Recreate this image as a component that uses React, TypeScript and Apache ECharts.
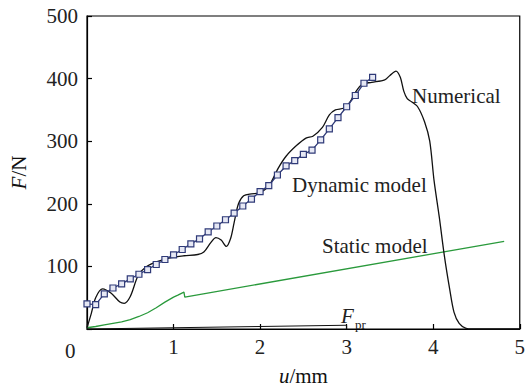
import React, { useEffect, useRef } from "react";
import * as echarts from "echarts";

const xTicks = [0, 1, 2, 3, 4, 5];
const yTicks = [0, 100, 200, 300, 400, 500];

const numericalX = [0, 0.05, 0.1, 0.18, 0.28, 0.38, 0.43, 0.5, 0.59, 0.68, 0.82, 0.97, 1.12, 1.28, 1.35, 1.43, 1.49, 1.55, 1.61, 1.66, 1.7, 1.75, 1.81, 1.9, 1.98, 2.05, 2.11, 2.21, 2.3, 2.42, 2.53, 2.61, 2.72, 2.8, 2.87, 2.97, 3.04, 3.1, 3.18, 3.29, 3.44, 3.5, 3.57, 3.62, 3.66, 3.7, 3.75, 3.82, 3.9, 3.96, 4.01, 4.07, 4.13, 4.19, 4.24, 4.3, 4.38, 4.45, 5];
const numericalY = [2, 25, 50, 64, 57, 43, 41, 52, 85, 99, 108, 114, 117, 119, 123, 138, 146, 142, 132, 145, 170, 200, 213, 216, 217, 222, 230, 257, 276, 293, 305, 308, 322, 342, 350, 353, 363, 378, 391, 394, 398, 405, 412, 402, 380, 368, 363, 355, 331, 300, 237, 179, 116, 64, 27, 9, 1, 0, 0];

const dynamicX = [0, 0.1, 0.2, 0.3, 0.4, 0.5, 0.6, 0.7, 0.8, 0.9, 1.0, 1.1, 1.2, 1.3, 1.4, 1.5, 1.6, 1.7, 1.8, 1.9, 2.0, 2.1, 2.2, 2.3, 2.4, 2.5, 2.6, 2.7, 2.8, 2.9, 3.0, 3.1, 3.2, 3.3];
const dynamicY = [40, 39, 56, 65.5, 72, 80, 87.5, 95, 103, 111, 118.5, 127, 136, 144, 155, 164.5, 174.5, 185, 196.5, 207.5, 219.6, 229, 246, 260.5, 269, 279, 285.7, 302, 319.7, 337.6, 355, 373, 392.6, 402];

const staticX = [0, 0.1, 0.2, 0.3, 0.4, 0.5, 0.6, 0.7, 0.8, 0.9, 1.0, 1.05, 1.12, 1.13, 4.82];
const staticY = [2, 4, 6.5, 9, 11.5, 15, 20, 26, 34, 43, 51, 54, 59, 51, 140];

const fprX = [0, 3, 3];
const fprY = [0, 6, 0];

const zip = (xs: number[], ys: number[]) => xs.map((x, i) => [x, ys[i]]);

const FONT = "Liberation Serif";
const FS = 21;

export default function App() {
  const ref = useRef<HTMLDivElement>(null);
  useEffect(() => {
    if (!ref.current) return;
    const chart = echarts.init(ref.current, undefined, { renderer: "svg" });
    const rich = { i: { fontFamily: FONT, fontSize: FS, fontStyle: "italic", color: "#111" } };
    chart.setOption({
      animation: false,
      backgroundColor: "#fff",
      grid: {
        left: 85,
        top: 16,
        width: 438,
        height: 318,
        show: true,
        borderColor: "#000",
        borderWidth: 1.2,
      },
      xAxis: {
        type: "value",
        min: xTicks[0],
        max: xTicks[xTicks.length - 1],
        interval: 1,
        name: "{i|u}/mm",
        nameLocation: "middle",
        nameGap: 36,
        nameTextStyle: { fontFamily: FONT, fontSize: FS, color: "#111", rich },
        axisLine: { show: true, lineStyle: { color: "#000", width: 1.2 } },
        axisTick: { show: true, inside: true, length: 5, lineStyle: { color: "#000", width: 1.2 } },
        splitLine: { show: false },
        axisLabel: {
          margin: 7,
          fontFamily: FONT,
          fontSize: FS,
          color: "#222",
          formatter: (v: number) => (v === 0 ? "" : String(v)),
        },
      },
      yAxis: {
        type: "value",
        min: yTicks[0],
        max: yTicks[yTicks.length - 1],
        interval: 100,
        name: "{i|F}/N",
        nameLocation: "middle",
        nameGap: 58,
        nameRotate: 90,
        nameTextStyle: { fontFamily: FONT, fontSize: FS, color: "#111", rich },
        axisLine: { show: true, lineStyle: { color: "#000", width: 1.2 } },
        axisTick: { show: true, inside: true, length: 5, lineStyle: { color: "#000", width: 1.2 } },
        splitLine: { show: false },
        axisLabel: {
          margin: 9,
          fontFamily: FONT,
          fontSize: FS,
          color: "#222",
          formatter: (v: number) => (v === 0 ? "" : String(v)),
        },
      },
      series: [
        {
          name: "Numerical",
          type: "line",
          data: zip(numericalX, numericalY),
          smooth: 0.3,
          showSymbol: false,
          lineStyle: { color: "#111", width: 1.3 },
          z: 3,
        },
        {
          name: "Static model",
          type: "line",
          data: zip(staticX, staticY),
          showSymbol: false,
          lineStyle: { color: "#2a9a3c", width: 1.3 },
          z: 2,
        },
        {
          name: "Dynamic model",
          type: "line",
          data: zip(dynamicX, dynamicY),
          symbol: "rect",
          symbolSize: 6,
          showSymbol: true,
          itemStyle: { color: "#e6e8f4", borderColor: "#2f3a78", borderWidth: 1.2 },
          lineStyle: { color: "#2f3a78", width: 1.3 },
          z: 4,
        },
        {
          name: "Fpr",
          type: "line",
          data: zip(fprX, fprY),
          showSymbol: false,
          lineStyle: { color: "#111", width: 1 },
          z: 2,
        },
      ],
      graphic: [
        { type: "text", left: 65, top: 340, style: { text: "0", fontFamily: FONT, fontSize: FS, fill: "#222" } },
        { type: "text", left: 412, top: 85, style: { text: "Numerical", fontFamily: FONT, fontSize: FS, fill: "#222" } },
        { type: "text", left: 292, top: 174, style: { text: "Dynamic model", fontFamily: FONT, fontSize: FS, fill: "#222" } },
        { type: "text", left: 322, top: 235, style: { text: "Static model", fontFamily: FONT, fontSize: FS, fill: "#222" } },
        { type: "text", left: 341, top: 305, style: { text: "F", fontFamily: FONT, fontSize: FS, fontStyle: "italic", fill: "#222" } },
        { type: "text", left: 355, top: 318, style: { text: "pr", fontFamily: FONT, fontSize: 13, fill: "#222" } },
      ],
    });
    return () => chart.dispose();
  }, []);
  return <div ref={ref} style={{ position: "absolute", left: 0, top: 0, width: 528, height: 391 }} />;
}
